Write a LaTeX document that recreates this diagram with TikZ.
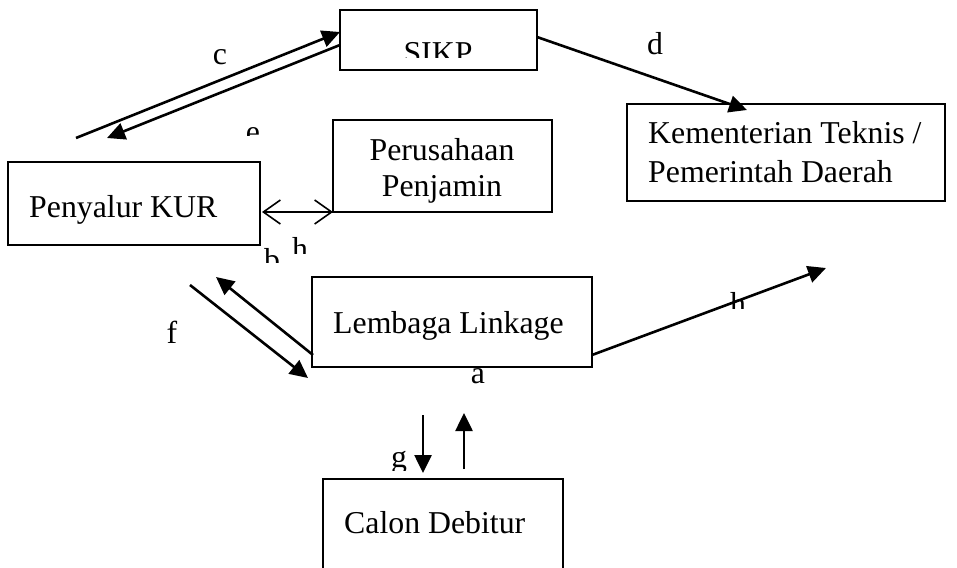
\documentclass[tikz,border=0pt]{standalone}
\usepackage{fontspec}
\setmainfont{Liberation Serif}
\usetikzlibrary{arrows.meta}
\begin{document}
\begin{tikzpicture}[x=1pt,y=-1pt,
  box/.style={draw=black,line width=1.8pt,rectangle,inner sep=0pt},
  txt/.style={inner sep=0pt,font=\fontsize{31.8}{38}\selectfont},
  arr/.style={line width=2.6pt,-{Triangle[length=18pt,width=17pt]}},
  dbl/.style={line width=1.6pt,{Straight Barb[length=17pt,width=24pt]}-{Straight Barb[length=17pt,width=24pt]}}]
\clip (0,0) rectangle (957,567);
\fill[white] (0,0) rectangle (957,567);
% boxes
\node[box,minimum width=197pt,minimum height=60pt] (sikp) at (438.5,40) {};
\node[box,minimum width=252pt,minimum height=83pt] (penyalur) at (134,203.5) {};
\node[box,minimum width=219pt,minimum height=92pt] (penjamin) at (442.5,166) {};
\node[box,minimum width=318pt,minimum height=97pt] (kementerian) at (786,152.5) {};
\node[box,minimum width=280pt,minimum height=90pt] (linkage) at (452,322) {};
\node[box,minimum width=240pt,minimum height=120pt] (calon) at (443,539) {};
% box texts
\begin{scope}
\clip (340,0) rectangle (540,58);
\node[txt,anchor=base] (tsikp) at (438,64) {SIKP};
\end{scope}
\node[txt,anchor=base west] (tpenyalur) at (29,217) {Penyalur KUR};
\node[txt,anchor=base] (tpj1) at (442,160) {Perusahaan};
\node[txt,anchor=base] (tpj2) at (442,196) {Penjamin};
\node[txt,anchor=base west] (tkm1) at (648,143) {Kementerian Teknis /};
\node[txt,anchor=base west] (tkm2) at (648,182) {Pemerintah Daerah};
\node[txt,anchor=base west] (tlink) at (333,333) {Lembaga Linkage};
\node[txt,anchor=base west] (tcalon) at (344,533) {Calon Debitur};
% coordinates
\coordinate (c1s) at (76,138);
\coordinate (c1e) at (340,32);
\coordinate (c2s) at (340,45);
\coordinate (c2e) at (107,138);
\coordinate (ds) at (537,37);
\coordinate (de) at (747,110);
\coordinate (bl) at (262,212);
\coordinate (br) at (333,212);
\coordinate (f1s) at (190,285);
\coordinate (f1e) at (308,378);
\coordinate (f2s) at (313,355);
\coordinate (f2e) at (216,277);
\coordinate (hs) at (592,355);
\coordinate (he) at (826,268);
\coordinate (g1s) at (423,415);
\coordinate (g1e) at (423,473);
\coordinate (g2s) at (464,469);
\coordinate (g2e) at (464,413);
% connectors
\draw[arr] (c1s) -- (c1e);
\draw[arr] (c2s) -- (c2e);
\draw[arr] (ds) -- (de);
\draw[dbl] (bl) -- (br);
\draw[arr] (f1s) -- (f1e);
\draw[arr] (f2s) -- (f2e);
\draw[arr] (hs) -- (he);
\draw[arr] (g1s) -- (g1e);
\draw[arr] (g2s) -- (g2e);
% labels
\node[txt,anchor=base] (lc) at (220,65) {c};
\node[txt,anchor=base] (ld) at (655,55) {d};
\begin{scope}
\clip (230,100) rectangle (280,135);
\node[txt,anchor=base] (le) at (253,142) {e};
\end{scope}
\node[txt,anchor=base] (lf) at (172,343) {f};
\node[txt,anchor=base] (la) at (478,383) {a};
\begin{scope}
\clip (255,230) rectangle (290,262);
\node[txt,anchor=base] (lb) at (272,270) {b};
\end{scope}
\begin{scope}
\clip (285,225) rectangle (315,253);
\node[txt,anchor=base] (lh1) at (300,259) {h};
\end{scope}
\begin{scope}
\clip (720,280) rectangle (760,308);
\node[txt,anchor=base] (lh2) at (738,314) {h};
\end{scope}
\begin{scope}
\clip (380,440) rectangle (415,470);
\node[txt,anchor=base] (lg) at (399,467) {g};
\end{scope}
\end{tikzpicture}
\end{document}
